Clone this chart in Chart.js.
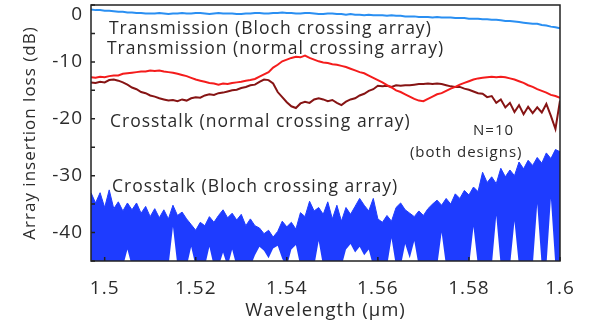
<!DOCTYPE html>
<html>
<head>
<meta charset="utf-8">
<script src="https://cdn.jsdelivr.net/npm/chart.js@4/dist/chart.umd.min.js"></script>
<style>
  html, body { margin: 0; padding: 0; background: #fff; }
</style>
</head>
<body>
<canvas id="lossChart" width="598" height="327"></canvas>
<script>
// wavelength grid (um)
const wavelength = [
  1.497, 1.498, 1.499, 1.500, 1.501, 1.502, 1.503, 1.504, 1.505, 1.506,
  1.507, 1.508, 1.509, 1.510, 1.511, 1.512, 1.513, 1.514, 1.515, 1.516,
  1.517, 1.518, 1.519, 1.520, 1.521, 1.522, 1.523, 1.524, 1.525, 1.526,
  1.527, 1.528, 1.529, 1.530, 1.531, 1.532, 1.533, 1.534, 1.535, 1.536,
  1.537, 1.538, 1.539, 1.540, 1.541, 1.542, 1.543, 1.544, 1.545, 1.546,
  1.547, 1.548, 1.549, 1.550, 1.551, 1.552, 1.553, 1.554, 1.555, 1.556,
  1.557, 1.558, 1.559, 1.560, 1.561, 1.562, 1.563, 1.564, 1.565, 1.566,
  1.567, 1.568, 1.569, 1.570, 1.571, 1.572, 1.573, 1.574, 1.575, 1.576,
  1.577, 1.578, 1.579, 1.580, 1.581, 1.582, 1.583, 1.584, 1.585, 1.586,
  1.587, 1.588, 1.589, 1.590, 1.591, 1.592, 1.593, 1.594, 1.595, 1.596,
  1.597, 1.598, 1.599, 1.600
];

// Transmission (Bloch crossing array), dB
const transBloch = [
  -0.8, -0.9, -0.9, -1.0, -1.0, -1.1, -1.2, -1.2, -1.3, -1.3,
  -1.4, -1.4, -1.5, -1.5, -1.5, -1.4, -1.5, -1.6, -1.5, -1.5,
  -1.4, -1.5, -1.5, -1.4, -1.4, -1.5, -1.6, -1.5, -1.4, -1.5,
  -1.5, -1.5, -1.6, -1.6, -1.5, -1.5, -1.4, -1.4, -1.5, -1.5,
  -1.4, -1.4, -1.3, -1.4, -1.4, -1.5, -1.5, -1.4, -1.4, -1.5,
  -1.6, -1.6, -1.5, -1.5, -1.6, -1.6, -1.7, -1.6, -1.7, -1.7,
  -1.8, -1.7, -1.8, -1.8, -1.8, -1.9, -1.8, -1.9, -1.9, -2.0,
  -2.0, -2.0, -2.1, -2.1, -2.1, -2.2, -2.1, -2.2, -2.2, -2.2,
  -2.3, -2.3, -2.3, -2.4, -2.4, -2.4, -2.5, -2.5, -2.6, -2.6,
  -2.7, -2.8, -2.8, -2.9, -3.0, -3.1, -3.2, -3.3, -3.3, -3.5,
  -3.6, -3.8, -3.9, -4.1
];

// Transmission (normal crossing array), dB
const transNormal = [
  -12.7, -12.8, -12.6, -12.7, -12.5, -12.4, -12.4, -12.1, -12.0, -11.9,
  -11.8, -11.7, -11.7, -11.5, -11.6, -11.5, -11.7, -11.8, -11.9, -12.1,
  -12.3, -12.5, -12.8, -13.1, -13.3, -13.5, -13.7, -13.8, -14.0, -13.8,
  -13.9, -13.7, -13.6, -13.5, -13.3, -13.2, -13.0, -12.6, -12.2, -11.8,
  -11.0, -10.5, -9.9, -9.6, -9.3, -9.1, -9.2, -8.9, -9.3, -9.6,
  -9.9, -10.1, -10.2, -10.4, -10.5, -10.7, -10.9, -11.2, -11.5, -11.8,
  -12.0, -12.4, -12.8, -13.2, -13.6, -14.1, -14.5, -15.0, -15.3, -15.7,
  -16.1, -16.5, -16.8, -16.9, -16.5, -16.1, -15.7, -15.5, -15.1, -14.7,
  -14.4, -14.0, -13.7, -13.4, -13.1, -12.9, -12.8, -12.7, -12.6, -12.7,
  -12.6, -12.7, -12.9, -13.1, -13.4, -13.7, -14.1, -14.4, -14.8, -15.1,
  -15.4, -15.8, -16.0, -16.3
];

// Crosstalk (normal crossing array), dB
const xtalkNormal = [
  -13.6, -13.7, -13.5, -13.6, -13.2, -13.1, -13.3, -13.6, -14.0, -14.5,
  -14.8, -15.3, -15.5, -15.9, -16.1, -16.4, -16.6, -16.8, -16.7, -16.9,
  -16.6, -16.8, -16.4, -16.2, -16.3, -15.9, -15.7, -15.8, -15.5, -15.4,
  -15.2, -15.0, -14.9, -14.6, -14.4, -14.1, -14.0, -13.5, -13.1, -13.2,
  -13.8, -15.3, -16.2, -17.1, -17.8, -18.1, -17.3, -17.0, -17.2, -16.6,
  -16.4, -16.6, -16.9, -16.7, -17.2, -17.6, -17.0, -16.6, -16.4, -15.9,
  -15.6, -15.1, -14.8, -14.2, -14.3, -14.2, -14.4, -14.1, -14.2, -14.1,
  -14.1, -14.0, -13.9, -13.9, -13.8, -13.9, -13.8, -13.9, -14.1, -14.3,
  -14.4, -14.4, -14.7, -14.9, -15.2, -15.5, -15.6, -16.2, -16.0, -17.2,
  -16.6, -18.0, -17.2, -18.8, -17.6, -19.2, -17.9, -19.0, -18.0, -18.9,
  -17.4, -19.5, -21.8, -16.8
];

// Crosstalk (Bloch crossing array): upper and lower edge of the noisy trace, dB
const xtalkBlochTop = [
  -33.0, -34.8, -33.0, -35.6, -32.5, -35.8, -34.6, -36.2, -34.8, -36.0,
  -34.8, -36.6, -35.4, -37.2, -35.8, -37.4, -36.0, -37.6, -35.2, -37.0,
  -36.4, -37.6, -38.6, -39.6, -38.2, -38.8, -37.2, -38.2, -37.0, -36.0,
  -37.4, -36.6, -37.8, -36.8, -38.8, -37.6, -38.8, -39.2, -40.2, -39.6,
  -40.8, -39.8, -38.0, -39.0, -38.2, -39.4, -36.5, -37.2, -34.5, -36.2,
  -35.6, -36.8, -34.6, -37.6, -35.2, -38.0, -35.6, -36.8, -35.4, -34.0,
  -35.2, -36.2, -34.0, -37.6, -38.2, -37.0, -38.0, -35.6, -34.8, -36.0,
  -36.6, -37.2, -36.2, -37.0, -35.8, -35.0, -34.3, -35.2, -34.0, -35.0,
  -33.2, -34.0, -32.6, -33.4, -32.0, -32.8, -29.4, -31.2, -30.2, -31.4,
  -28.7, -30.2, -29.0, -30.0, -27.6, -28.8, -27.3, -28.2, -26.8, -27.8,
  -26.0, -27.0, -25.4, -25.8
];
const xtalkBlochLow = [
  -46, -46, -46, -46, -46, -46, -46, -46, -43, -46,
  -46, -46, -46, -46, -46, -46, -46, -46, -39, -46,
  -46, -46, -42.5, -46, -46, -46, -42.5, -46, -46, -43.5,
  -46, -43, -46, -46, -46, -46, -44, -42.5, -43.2, -44.5,
  -42.8, -42.3, -44.6, -46, -43, -42.2, -46, -46, -46, -46,
  -41.5, -46, -46, -46, -46, -46, -43, -42, -43.5, -42.5,
  -44, -43, -46, -46, -46, -46, -41, -46, -46, -42,
  -44.5, -41.5, -46, -46, -46, -46, -46, -40, -46, -46,
  -46, -46, -46, -46, -39, -46, -46, -46, -46, -37,
  -46, -46, -46, -38, -46, -46, -46, -46, -35, -46,
  -46, -34, -46, -46
];

const xTickLabels = [1.5, 1.52, 1.54, 1.56, 1.58, 1.6];
const yTickLabels = [0, -10, -20, -30, -40];

const notes = [
  { text: "Transmission (Bloch crossing array)", w: 1.50095, v: -5.05, align: "left", size: 17.5 },
  { text: "Transmission (normal crossing array)", w: 1.5005, v: -8.56, align: "left", size: 17.5 },
  { text: "Crosstalk (normal crossing array)", w: 1.50117, v: -21.5, align: "left", size: 17.5 },
  { text: "N=10", w: 1.5854, v: -22.9, align: "center", size: 15 },
  { text: "(both designs)", w: 1.5794, v: -26.7, align: "center", size: 15 },
  { text: "Crosstalk (Bloch crossing array)", w: 1.50161, v: -32.8, align: "left", size: 17.5 },
];

const textColor = "#2b2b2b";
const toPoints = (vals) => vals.map((v, i) => ({ x: wavelength[i], y: v }));

// slightly wider lettering, like the original figure
const spacingPlugin = {
  id: "spacing",
  beforeDraw(chart) { chart.ctx.letterSpacing = "1px"; },
  afterDraw(chart) { chart.ctx.letterSpacing = "0px"; },
};

// frame, inward tick marks and the in-plot captions
const framePlugin = {
  id: "frame",
  afterDatasetsDraw(chart) {
    const { ctx, chartArea: a, scales: { x, y } } = chart;
    ctx.save();
    ctx.strokeStyle = "#222";
    ctx.lineWidth = 1.5;
    ctx.strokeRect(a.left, a.top, a.right - a.left, a.bottom - a.top);
    ctx.beginPath();
    y.ticks.forEach((t) => {
      const py = y.getPixelForValue(t.value);
      ctx.moveTo(a.left, py);
      ctx.lineTo(a.left + 4, py);
    });
    x.ticks.forEach((t) => {
      const px = x.getPixelForValue(t.value);
      ctx.moveTo(px, a.bottom);
      ctx.lineTo(px, a.bottom - 4);
    });
    ctx.stroke();

    ctx.fillStyle = textColor;
    ctx.textBaseline = "alphabetic";
    notes.forEach((n) => {
      ctx.font = n.size + 'px "Open Sans"';
      ctx.textAlign = n.align;
      ctx.fillText(n.text, x.getPixelForValue(n.w), y.getPixelForValue(n.v));
    });
    ctx.restore();
  },
};

new Chart(document.getElementById("lossChart"), {
  type: "line",
  data: {
    datasets: [
      {
        label: "Transmission (Bloch crossing array)",
        data: toPoints(transBloch),
        borderColor: "#2a8ff2",
        borderWidth: 2,
        pointRadius: 0,
        fill: false,
      },
      {
        label: "Transmission (normal crossing array)",
        data: toPoints(transNormal),
        borderColor: "#f41c1c",
        borderWidth: 2,
        pointRadius: 0,
        fill: false,
      },
      {
        label: "Crosstalk (normal crossing array)",
        data: toPoints(xtalkNormal),
        borderColor: "#861414",
        borderWidth: 2,
        pointRadius: 0,
        fill: false,
      },
      {
        label: "Crosstalk (Bloch crossing array)",
        data: toPoints(xtalkBlochTop),
        borderColor: "#1e3cff",
        backgroundColor: "#1e3cff",
        borderWidth: 1,
        pointRadius: 0,
        fill: "+1",
      },
      {
        label: "Crosstalk (Bloch) lower edge",
        data: toPoints(xtalkBlochLow),
        borderColor: "#1e3cff",
        borderWidth: 0,
        pointRadius: 0,
        fill: false,
      },
    ],
  },
  options: {
    responsive: false,
    animation: false,
    layout: { padding: { top: 5, right: 38, left: 0, bottom: 0 } },
    plugins: {
      legend: { display: false },
      tooltip: { enabled: false },
    },
    scales: {
      x: {
        type: "linear",
        min: 1.497,
        max: 1.6,
        grid: { display: false, drawTicks: false },
        border: { display: false },
        ticks: {
          stepSize: 0.02,
          includeBounds: false,
          autoSkip: false,
          maxRotation: 0,
          padding: 16,
          color: textColor,
          font: { family: "Open Sans", size: 19 },
          callback: (v) => {
            const r = +v.toFixed(2);
            return xTickLabels.includes(r) ? String(r) : "";
          },
        },
        title: {
          display: true,
          text: "Wavelength (µm)",
          color: textColor,
          font: { family: "Open Sans", size: 18.5 },
          padding: { top: 0, bottom: 5 },
        },
        afterFit: (s) => {
          s.height = 66;
          s.paddingLeft = 0;
          s.paddingRight = 0;
        },
      },
      y: {
        min: -45,
        max: 0,
        grid: { display: false, drawTicks: false },
        border: { display: false },
        ticks: {
          stepSize: 5,
          autoSkip: false,
          padding: 8,
          color: textColor,
          font: { family: "Open Sans", size: 19, lineHeight: 1 },
          callback: (v) => {
            if (!yTickLabels.includes(v)) return "";
            return v === 0 ? ["", "0"] : String(v);
          },
        },
        title: {
          display: true,
          text: "Array insertion loss (dB)",
          color: textColor,
          font: { family: "Open Sans", size: 17 },
          padding: { top: 20, bottom: 0 },
        },
        afterFit: (s) => {
          s.width = 91;
          s.paddingTop = 0;
          s.paddingBottom = 0;
        },
      },
    },
  },
  plugins: [spacingPlugin, framePlugin],
});
</script>
</body>
</html>
